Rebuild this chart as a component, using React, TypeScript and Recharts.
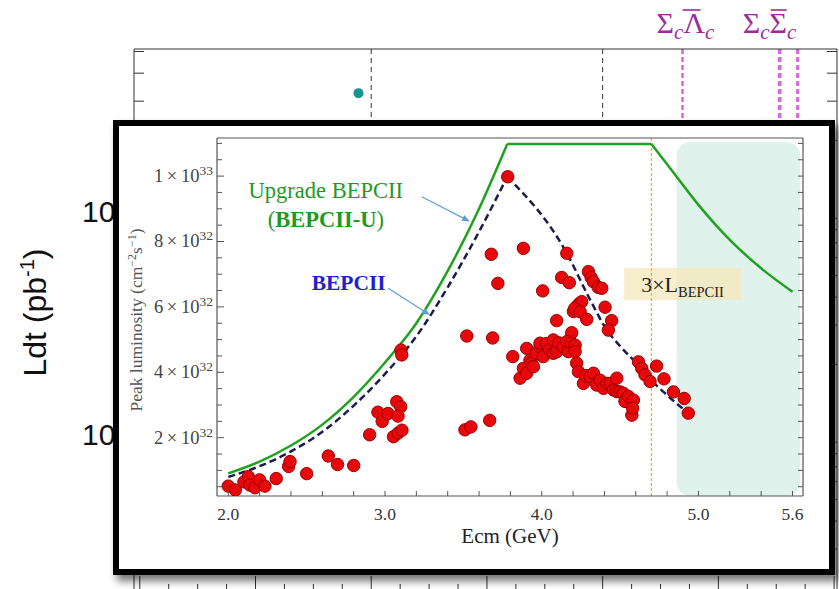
import React from "react";
import {
  ComposedChart,
  Line,
  Scatter,
  XAxis,
  YAxis,
  ReferenceLine,
  ReferenceArea,
  ReferenceDot,
  Label,
} from "recharts";

const SERIF = "'Liberation Serif', 'Times New Roman', Times, serif";
const SANS = "'Liberation Sans', Arial, Helvetica, sans-serif";
const PURPLE = "#9c2c9c";
const GREEN = "#1fa31f";
const NAVY = "#1b1b4d";

// ---------- background panel (data-taking energies) ----------
const outerEDomain = [3.79, 5.005];
const outerTicksE = [
  3.8, 3.85, 3.9, 3.95, 4.0, 4.05, 4.1, 4.15, 4.2, 4.25, 4.3, 4.35, 4.4,
  4.45, 4.5, 4.55, 4.6, 4.65, 4.7, 4.75, 4.8, 4.85, 4.9, 4.95, 5.0,
];
const outerMajorE = [3.8, 4.0, 4.2, 4.4, 4.6, 4.8, 5.0];
const outerLumDomain = [19.3, 5129];
const outerLumMajor = [100, 1000];
const outerLumMinor = [
  30, 40, 50, 60, 70, 80, 90, 200, 300, 400, 500, 600, 700, 800, 900, 2000,
  3000, 4000, 5000,
];
const outerPoints = [{ e: 4.178, lum: 3258 }];
const scanEdges = [4.2, 4.6];
const lambdaThreshold = 4.738;
const sigmaThresholds = [4.906, 4.937];

// ---------- inset: peak luminosity (units of 1e32 cm^-2 s^-1) ----------
const insetEDomain = [1.928, 5.667];
const insetLDomain = [0.217, 11.165];
const eTicks = [
  2.0, 2.2, 2.4, 2.6, 2.8, 3.0, 3.2, 3.4, 3.6, 3.8, 4.0, 4.2, 4.4, 4.6, 4.8,
  5.0, 5.2, 5.4, 5.6,
];
const eLabelTicks = [2.0, 3.0, 4.0, 5.0, 5.6];
const lTicks = [
  0.5, 1, 1.5, 2, 2.5, 3, 3.5, 4, 4.5, 5, 5.5, 6, 6.5, 7, 7.5, 8, 8.5, 9, 9.5,
  10, 10.5, 11,
];
const lLabelTicks = [2, 4, 6, 8, 10];

const upgradeRise = [
  [2.0, 0.91], [2.2, 1.27], [2.4, 1.76], [2.6, 2.4], [2.8, 3.25],
  [3.0, 4.3], [3.2, 5.5], [3.4, 7.1], [3.6, 9.0], [3.78, 10.98],
];
const upgradeTop = [[3.78, 10.98], [4.7, 10.98]];
const upgradeFall = [
  [4.7, 10.98], [4.85, 10.05], [5.0, 9.12], [5.2, 8.05], [5.4, 7.18], [5.6, 6.46],
];
const bepcRise = [
  [2.0, 0.8], [2.2, 1.13], [2.4, 1.58], [2.6, 2.18], [2.8, 2.98],
  [3.0, 3.95], [3.2, 5.1], [3.4, 6.6], [3.6, 8.3], [3.78, 9.98],
];
const bepcFall = [
  [3.78, 9.98], [4.16, 7.64], [4.3, 6.3], [4.415, 5.3], [4.5, 4.8],
  [4.606, 4.27], [4.7, 3.75], [4.8, 3.3], [4.935, 2.75],
];
const measured = [
  [2.0, 0.52], [2.045, 0.4], [2.1, 0.65], [2.128, 0.81], [2.138, 0.55],
  [2.17, 0.47], [2.2, 0.71], [2.234, 0.52], [2.306, 0.75], [2.385, 1.12],
  [2.394, 1.27], [2.5, 0.9], [2.638, 1.44], [2.697, 1.18], [2.8, 1.15],
  [2.902, 2.09], [2.955, 2.78], [2.982, 2.5], [3.019, 2.74], [3.075, 3.1],
  [3.1, 2.95], [3.083, 2.66], [3.054, 2.03], [3.083, 2.14], [3.108, 2.23],
  [3.102, 4.68], [3.107, 4.53], [3.51, 2.24], [3.548, 2.33], [3.668, 2.53],
  [3.522, 5.11], [3.687, 5.05], [3.678, 7.61], [3.72, 6.72], [3.783, 9.98],
  [3.883, 7.79], [4.006, 6.49], [4.16, 7.64], [4.127, 6.9], [4.176, 6.74],
  [4.298, 7.08], [4.315, 6.9], [4.33, 6.77], [4.36, 6.6], [4.383, 6.57],
  [4.202, 5.86], [4.223, 6.01], [4.24, 6.1], [4.255, 6.16], [4.21, 5.95],
  [4.245, 5.85], [4.287, 5.62], [4.404, 5.99], [4.446, 5.58], [4.425, 5.29],
  [4.095, 5.58], [4.191, 5.21], [3.815, 4.48],
  [3.862, 3.82], [3.883, 4.12], [3.904, 3.97], [3.904, 4.73], [3.925, 4.37],
  [3.936, 4.28], [3.947, 4.17], [3.968, 4.58], [3.989, 4.78], [3.989, 4.89],
  [4.01, 4.48], [4.03, 4.88], [4.05, 4.7], [4.074, 4.99], [4.074, 4.58],
  [4.096, 4.63], [4.11, 4.9], [4.138, 4.78], [4.16, 4.94], [4.17, 4.63],
  [4.19, 4.89], [4.213, 4.83], [4.213, 4.63],
  [4.223, 4.28], [4.234, 4.02], [4.266, 3.66], [4.28, 3.9], [4.308, 3.87],
  [4.33, 3.97], [4.351, 3.61], [4.372, 3.76], [4.394, 3.51], [4.415, 3.66],
  [4.436, 3.66], [4.457, 3.46], [4.479, 3.82], [4.479, 3.41], [4.5, 3.4],
  [4.52, 3.36], [4.531, 3.11], [4.553, 3.26], [4.575, 2.69], [4.585, 3.15],
  [4.58, 2.9],
  [4.617, 4.32], [4.638, 4.12], [4.659, 3.92], [4.691, 3.72],
  [4.733, 4.19], [4.78, 3.8], [4.84, 3.4], [4.909, 3.2], [4.935, 2.75],
];

// annotation anchors (data coordinates)
const futureBand = { e1: 4.86, e2: 5.65, l1: 0.217, l2: 11.04 };
const designEnergy = 4.7;
const tripleBox = { e1: 4.526, e2: 5.271, l1: 6.21, l2: 7.19 };
const upgradeNote = { e: 2.622, l: 9.32 };
const bepcNote = { e: 2.532, l: 6.52 };
const upgradeArrow = [{ x: 3.234, y: 9.37 }, { x: 3.542, y: 8.61 }];
const bepcArrow = [{ x: 3.021, y: 6.57 }, { x: 3.287, y: 5.75 }];
const lineTopLum = 5129;
const lineEndLum = 1000;

const toPts = (rows: number[][]) => rows.map(([e, l]) => ({ e, l }));
const inList = (list: number[], v: number) => list.some((t) => Math.abs(t - v) < 1e-6);

const FRAME = "#333";
const AXIS = "#555";

// inward tick mark drawn from the axis position in direction (dx, dy)
const markTick = (dx: number, dy: number, len: number, majors: number[] = [], majorLen = len, color = AXIS) =>
  (props: any) => {
    const { x, y, payload } = props;
    const L = inList(majors, payload.value) ? majorLen : len;
    return <line x1={x} y1={y} x2={x + dx * L} y2={y + dy * L} stroke={color} strokeWidth={1} />;
  };

// ---------- small render helpers ----------
const DecadeTick = (props: any) => {
  const { x, y, payload } = props;
  const exp = Math.round(Math.log10(payload.value));
  return (
    <text x={x - 8} y={y + 3} textAnchor="end" dominantBaseline="central" fontFamily={SANS} fontSize={30} fill="#111">
      10<tspan fontSize={19} dy={-12}>{exp}</tspan>
    </text>
  );
};

const LdtTitle = (p: any) => {
  const vb = p.viewBox;
  const x = 46;
  const y = vb.y + vb.height / 2 - 8;
  return (
    <text x={x} y={y} transform={`rotate(-90 ${x} ${y})`} textAnchor="middle" fontFamily={SANS} fontSize={32} fill="#111">
      Ldt (pb<tspan fontSize={20} dy={-12}>-1</tspan><tspan dy={12}>)</tspan>
    </text>
  );
};

// Σc + barred baryon + c, overbar drawn as a short line
const thresholdLabel = (second: string, shift: number, barFrom: number, barTo: number) => (p: any) => {
  const vb = p.viewBox;
  const x = vb.x + shift;
  const y = vb.y - 16;
  return (
    <g>
      <text x={x} y={y} fill={PURPLE} fontFamily={SERIF} fontSize={30}>
        Σ<tspan fontSize={21} fontStyle="italic" dy={6}>c</tspan><tspan dy={-6}>{second}</tspan><tspan fontSize={21} fontStyle="italic" dy={6}>c</tspan>
      </text>
      <line x1={x + barFrom} x2={x + barTo} y1={y - 23} y2={y - 23} stroke={PURPLE} strokeWidth={1.6} />
    </g>
  );
};

const InsetETick = (props: any) => {
  const { x, y, payload } = props;
  const v = payload.value;
  return (
    <g>
      <line x1={x} y1={y} x2={x} y2={y - 5} stroke={AXIS} />
      {inList(eLabelTicks, v) && (
        <text x={x} y={y + 24} textAnchor="middle" fontFamily={SERIF} fontSize={17.5} fill="#333">
          {v.toFixed(1)}
        </text>
      )}
    </g>
  );
};

const InsetLTick = (props: any) => {
  const { x, y, payload } = props;
  const v = payload.value;
  const labelled = inList(lLabelTicks, v);
  const mant = v >= 10 ? v / 10 : v;
  const exp = v >= 10 ? 33 : 32;
  return (
    <g>
      <line x1={x} y1={y} x2={x + (labelled ? 7 : 5)} y2={y} stroke={AXIS} />
      {labelled && (
        <text x={x - 4} y={y + 6} textAnchor="end" fontFamily={SERIF} fontSize={18.5} fill="#444">
          {mant}{"\u2009×\u2009"}10<tspan fontSize={13.5} dy={-7}>{exp}</tspan>
        </text>
      )}
    </g>
  );
};

const EcmTitle = (p: any) => {
  const vb = p.viewBox;
  return (
    <text x={vb.x + vb.width / 2} y={vb.y + 47} textAnchor="middle" fontFamily={SERIF} fontSize={21} fill="#222">
      Ecm (GeV)
    </text>
  );
};

const PeakTitle = (p: any) => {
  const vb = p.viewBox;
  const x = vb.x + 23;
  const y = vb.y + vb.height / 2 + 3;
  return (
    <text x={x} y={y} transform={`rotate(-90 ${x} ${y})`} textAnchor="middle" fontFamily={SERIF} fontSize={17.5} fill="#555">
      Peak luminosity (cm<tspan fontSize={12} dy={-6}>−2</tspan><tspan dy={6}>s</tspan><tspan fontSize={12} dy={-6}>−1</tspan><tspan dy={6}>)</tspan>
    </text>
  );
};

const Arrow = (p: any) => {
  const { x1, y1, x2, y2 } = p;
  const a = Math.atan2(y2 - y1, x2 - x1);
  const h = 8;
  const w = 3.2;
  const bx = x2 - h * Math.cos(a);
  const by = y2 - h * Math.sin(a);
  const px = -Math.sin(a) * w;
  const py = Math.cos(a) * w;
  return (
    <g>
      <line x1={x1} y1={y1} x2={bx} y2={by} stroke="#5f9fd6" strokeWidth={1.2} />
      <polygon points={`${x2},${y2} ${bx + px},${by + py} ${bx - px},${by - py}`} fill="#5f9fd6" />
    </g>
  );
};

const RedDot = (p: any) => (
  <circle cx={p.cx} cy={p.cy} r={6.2} fill="#e8070a" stroke="#9a0000" strokeWidth={1} />
);

const TealDot = (p: any) => <circle cx={p.cx} cy={p.cy} r={5} fill="#16958f" />;

export default function App() {
  return (
    <div style={{ position: "absolute", left: 0, top: 0, width: 839, height: 589, overflow: "hidden", background: "#fff" }}>
      {/* background panel */}
      <ComposedChart width={839} height={600} margin={{ top: 49, right: 2, bottom: 8, left: 0 }}>
        <XAxis xAxisId="e" type="number" dataKey="e" domain={outerEDomain} allowDataOverflow orientation="bottom" mirror height={1} ticks={outerTicksE} interval={0} tick={markTick(0, -1, 8, outerMajorE, 16, FRAME)} tickLine={false} tickSize={0} tickMargin={0} axisLine={{ stroke: FRAME }} />
        <XAxis xAxisId="eT" type="number" domain={outerEDomain} allowDataOverflow orientation="top" mirror height={1} ticks={outerTicksE} interval={0} tick={markTick(0, 1, 8, outerMajorE, 16, FRAME)} tickLine={false} tickSize={0} tickMargin={0} axisLine={{ stroke: FRAME }} />
        <YAxis yAxisId="lum" type="number" dataKey="lum" scale="log" domain={outerLumDomain} allowDataOverflow width={134} ticks={outerLumMajor} interval={0} tick={<DecadeTick />} tickLine={false} tickSize={0} tickMargin={0} axisLine={{ stroke: FRAME }}>
          <Label content={LdtTitle} />
        </YAxis>
        <YAxis yAxisId="lumL" type="number" scale="log" domain={outerLumDomain} allowDataOverflow mirror width={1} ticks={outerLumMinor} interval={0} tick={markTick(1, 0, 10, [], 10, FRAME)} tickLine={false} tickSize={0} tickMargin={0} axisLine={false} />
        <YAxis yAxisId="lumR" type="number" scale="log" orientation="right" domain={outerLumDomain} allowDataOverflow mirror width={1} ticks={outerLumMinor} interval={0} tick={markTick(-1, 0, 10, [], 10, FRAME)} tickLine={false} tickSize={0} tickMargin={0} axisLine={{ stroke: FRAME }} />

        {scanEdges.map((x) => (
          <ReferenceLine key={x} xAxisId="e" yAxisId="lum" segment={[{ x, y: lineTopLum }, { x, y: lineEndLum }]} stroke="#333" strokeDasharray="5 4" strokeWidth={1} />
        ))}
        <ReferenceLine xAxisId="e" yAxisId="lum" segment={[{ x: lambdaThreshold, y: lineTopLum }, { x: lambdaThreshold, y: lineEndLum }]} stroke="#d96bd9" strokeWidth={2.6} strokeDasharray="5 3" label={thresholdLabel("Λ", -26, 26, 44)} />
        <ReferenceLine xAxisId="e" yAxisId="lum" segment={[{ x: sigmaThresholds[0], y: lineTopLum }, { x: sigmaThresholds[0], y: lineEndLum }]} stroke="#d96bd9" strokeWidth={3.6} strokeDasharray="5 3" label={thresholdLabel("Σ", -37, 28, 44)} />
        <ReferenceLine xAxisId="e" yAxisId="lum" segment={[{ x: sigmaThresholds[1], y: lineTopLum }, { x: sigmaThresholds[1], y: lineEndLum }]} stroke="#d96bd9" strokeWidth={3.2} strokeDasharray="5 3" />

        <Scatter xAxisId="e" yAxisId="lum" data={outerPoints} dataKey="lum" shape={TealDot} isAnimationActive={false} />
      </ComposedChart>

      {/* inset */}
      <div
        style={{
          position: "absolute",
          left: 113,
          top: 120,
          width: 722,
          height: 455,
          border: "6px solid #000",
          boxSizing: "border-box",
          background: "#fff",
          boxShadow: "4px 6px 8px rgba(0,0,0,0.55)",
        }}
      >
        <ComposedChart width={710} height={443} margin={{ top: 12, right: 26, bottom: 0, left: 0 }}>
          <XAxis xAxisId="e" type="number" dataKey="e" domain={insetEDomain} allowDataOverflow height={73} ticks={eTicks} interval={0} tick={<InsetETick />} tickLine={false} tickSize={0} tickMargin={0} axisLine={{ stroke: AXIS, strokeWidth: 1.2 }}>
            <Label content={EcmTitle} />
          </XAxis>
          <XAxis xAxisId="eT" type="number" orientation="top" domain={insetEDomain} allowDataOverflow mirror height={1} ticks={eTicks} interval={0} tick={markTick(0, 1, 5)} tickLine={false} tickSize={0} tickMargin={0} axisLine={{ stroke: AXIS, strokeWidth: 1.2 }} />
          <YAxis yAxisId="l" type="number" dataKey="l" domain={insetLDomain} allowDataOverflow width={98} ticks={lTicks} interval={0} tick={<InsetLTick />} tickLine={false} tickSize={0} tickMargin={0} axisLine={{ stroke: AXIS, strokeWidth: 1.2 }}>
            <Label content={PeakTitle} />
          </YAxis>
          <YAxis yAxisId="lR" type="number" orientation="right" domain={insetLDomain} allowDataOverflow mirror width={1} ticks={lTicks} interval={0} tick={markTick(-1, 0, 5)} tickLine={false} tickSize={0} tickMargin={0} axisLine={{ stroke: AXIS, strokeWidth: 1.2 }} />

          <ReferenceArea
            xAxisId="e"
            yAxisId="l"
            x1={futureBand.e1}
            x2={futureBand.e2}
            y1={futureBand.l1}
            y2={futureBand.l2}
            ifOverflow="visible"
            shape={(p: any) => <rect x={p.x} y={p.y} width={p.width} height={p.height} rx={14} fill="#dff2ec" />}
          />
          <ReferenceLine xAxisId="e" yAxisId="l" x={designEnergy} stroke="#f0b030" strokeWidth={1.3} strokeDasharray="3 2" />
          <ReferenceArea
            xAxisId="e"
            yAxisId="l"
            x1={tripleBox.e1}
            x2={tripleBox.e2}
            y1={tripleBox.l1}
            y2={tripleBox.l2}
            ifOverflow="visible"
            shape={(p: any) => (
              <g>
                <rect x={p.x} y={p.y} width={p.width} height={p.height} fill="#f6e7bb" fillOpacity={0.75} />
                <text x={p.x + 17} y={p.y + 24} fontFamily={SERIF} fontSize={22} fill="#222">
                  3×L<tspan fontSize={14.5} dy={5}>BEPCII</tspan>
                </text>
              </g>
            )}
          />

          <Scatter xAxisId="e" yAxisId="l" data={toPts(measured)} dataKey="l" shape={RedDot} isAnimationActive={false} />

          <Line xAxisId="e" yAxisId="l" data={toPts(upgradeRise)} dataKey="l" type="monotone" stroke={GREEN} strokeWidth={2.5} dot={false} activeDot={false} isAnimationActive={false} />
          <Line xAxisId="e" yAxisId="l" data={toPts(upgradeTop)} dataKey="l" type="linear" stroke={GREEN} strokeWidth={2.5} dot={false} activeDot={false} isAnimationActive={false} />
          <Line xAxisId="e" yAxisId="l" data={toPts(upgradeFall)} dataKey="l" type="monotone" stroke={GREEN} strokeWidth={2.5} dot={false} activeDot={false} isAnimationActive={false} />
          <Line xAxisId="e" yAxisId="l" data={toPts(bepcRise)} dataKey="l" type="monotone" stroke={NAVY} strokeWidth={2.5} strokeDasharray="7 4" dot={false} activeDot={false} isAnimationActive={false} />
          <Line xAxisId="e" yAxisId="l" data={toPts(bepcFall)} dataKey="l" type="monotone" stroke={NAVY} strokeWidth={2.5} strokeDasharray="7 4" dot={false} activeDot={false} isAnimationActive={false} />

          <ReferenceLine xAxisId="e" yAxisId="l" segment={upgradeArrow} ifOverflow="visible" shape={Arrow} />
          <ReferenceLine xAxisId="e" yAxisId="l" segment={bepcArrow} ifOverflow="visible" shape={Arrow} />

          <ReferenceDot
            xAxisId="e"
            yAxisId="l"
            x={upgradeNote.e}
            y={upgradeNote.l}
            r={0}
            ifOverflow="visible"
            shape={(p: any) => (
              <text x={p.cx} y={p.cy} textAnchor="middle" fontFamily={SERIF} fontSize={22.5} fill="#1e9a24">
                <tspan x={p.cx}>Upgrade BEPCII</tspan>
                <tspan x={p.cx} dy={28.4}>(<tspan fontWeight="bold">BEPCII-U</tspan>)</tspan>
              </text>
            )}
          />
          <ReferenceDot
            xAxisId="e"
            yAxisId="l"
            x={bepcNote.e}
            y={bepcNote.l}
            r={0}
            ifOverflow="visible"
            shape={(p: any) => (
              <text x={p.cx} y={p.cy} fontFamily={SERIF} fontSize={21.5} fontWeight="bold" fill="#1e1ed2">
                BEPCII
              </text>
            )}
          />
        </ComposedChart>
      </div>
    </div>
  );
}
